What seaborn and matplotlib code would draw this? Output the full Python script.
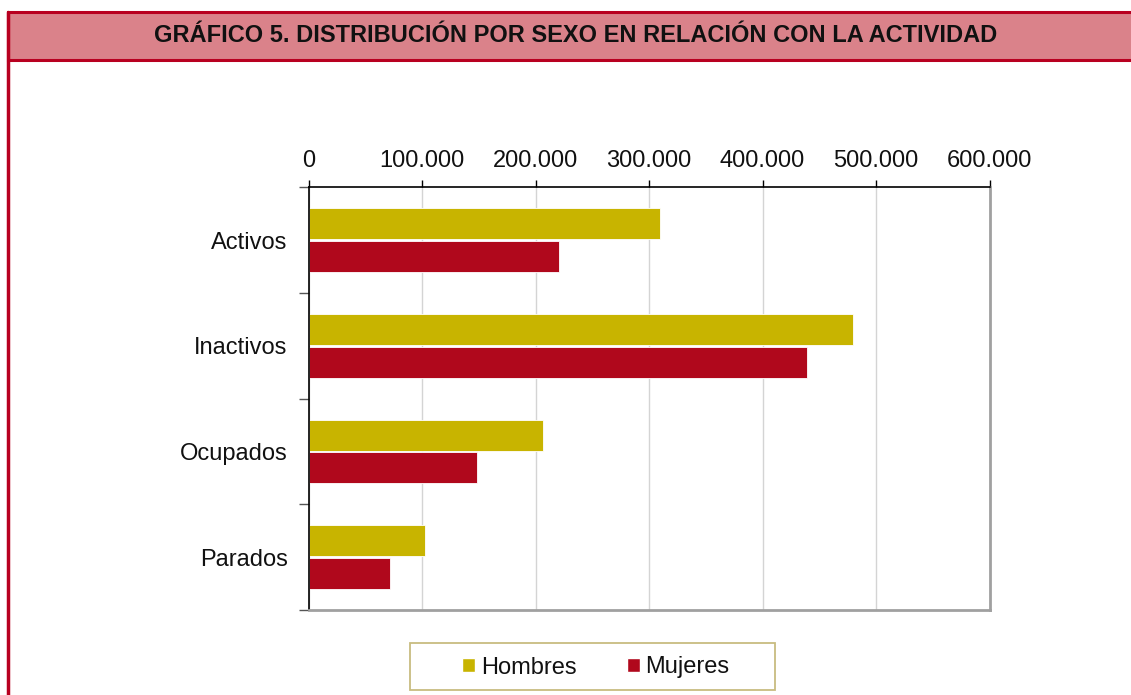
import pandas as pd
import matplotlib
matplotlib.use("Agg")
import matplotlib.pyplot as plt
import seaborn as sns
from matplotlib.patches import Rectangle
from matplotlib.lines import Line2D
from matplotlib.ticker import FuncFormatter, FixedLocator

# --- datos ---
categorias = ["Activos", "Inactivos", "Ocupados", "Parados"]
hombres = [309700, 480000, 206900, 102600]
mujeres = [221000, 439000, 148200, 71800]
series = ["Hombres", "Mujeres"]
colores = ["#C8B400", "#B0081C"]
xticks = [0, 100000, 200000, 300000, 400000, 500000, 600000]

df = pd.DataFrame({
    "Actividad": categorias * 2,
    "Sexo": [series[0]] * 4 + [series[1]] * 4,
    "Valor": hombres + mujeres,
})

sns.set_style("white")
plt.rcParams["font.family"] = ["Liberation Sans", "DejaVu Sans"]

fig = plt.figure(figsize=(11.31, 6.95), dpi=100)
ax = fig.add_axes([308.5 / 1131, 1 - 610 / 695, 681 / 1131, 422.7 / 695])

sns.barplot(data=df, y="Actividad", x="Valor", hue="Sexo", order=categorias,
            hue_order=series, palette=colores, saturation=1, orient="h",
            width=0.62, gap=0.05, edgecolor="white", linewidth=0.6, ax=ax, legend=False)

ax.set_xlim(0, 600000)
ax.set_ylim(3.5, -0.5)
ax.set_xticks(xticks)
ax.xaxis.set_major_formatter(FuncFormatter(lambda v, p: f"{int(v):,}".replace(",", ".")))
ax.xaxis.tick_top()
ax.tick_params(axis="x", which="major", length=5, width=1, color="black",
               pad=6, labelsize=17, top=True, bottom=False, labelcolor="#111111")
ax.grid(axis="x", color="#D4D4D4", linewidth=1)
ax.set_axisbelow(True)

# etiquetas de categorias sin marca; marcas en los limites
ax.yaxis.set_minor_locator(FixedLocator([-0.5, 0.5, 1.5, 2.5, 3.5]))
ax.tick_params(axis="y", which="major", length=0, pad=15, labelsize=17, labelcolor="#111111")
ax.tick_params(axis="y", which="minor", length=7, width=1, color="#555555", left=True)
ax.set_xlabel("")
ax.set_ylabel("")

for s in ["top", "left"]:
    ax.spines[s].set_color("black")
    ax.spines[s].set_linewidth(1.2)
for s in ["right", "bottom"]:
    ax.spines[s].set_visible(True)
    ax.spines[s].set_color("#A0A0A0")
    ax.spines[s].set_linewidth(2)

# banda del titulo
fig.patches.append(Rectangle((7.5 / 1131, 1 - 60 / 695), 1.2, 48 / 695,
                             transform=fig.transFigure, facecolor="#DA828A",
                             edgecolor="#B80020", linewidth=2.2, zorder=0))
fig.lines.append(Line2D([7.5 / 1131, 7.5 / 1131], [0, 1 - 12 / 695],
                        transform=fig.transFigure, color="#B80020", linewidth=2.5))
fig.text(576 / 1131, 1 - 36 / 695, "GRÁFICO 5. DISTRIBUCIÓN POR SEXO EN RELACIÓN CON LA ACTIVIDAD",
         ha="center", va="center", fontsize=17, fontweight="bold", color="#111111")

# leyenda (marco dibujado aparte)
fig.patches.append(Rectangle((409.5 / 1131, 1 - 690 / 695), 365 / 1131, 47 / 695,
                             transform=fig.transFigure, facecolor="white",
                             edgecolor="#C8BC80", linewidth=1.3, zorder=1))
handles = [Rectangle((0, 0), 1, 1, facecolor=c) for c in colores]
leg = fig.legend(handles, series, loc="center", bbox_to_anchor=(596 / 1131, 1 - 667.5 / 695),
                 ncol=2, frameon=False, fontsize=17, handlelength=0.55,
                 handleheight=0.55, handletextpad=0.25, columnspacing=2.1,
                 borderpad=0, borderaxespad=0)
for t in leg.get_texts():
    t.set_color("#111111")

fig.savefig("out.png", dpi=100)
